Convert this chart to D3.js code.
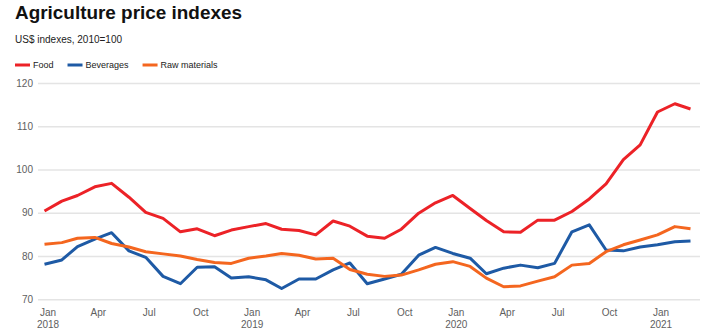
<!DOCTYPE html>
<html lang="en">
<head>
<meta charset="UTF-8">
<title>Agriculture price indexes</title>
<script src="https://d3js.org/d3.v7.min.js"></script>
<style>
  body { margin: 0; background: #fff; font-family: "Liberation Sans", Arial, sans-serif; }
  .grid line { stroke: #e4e4e4; stroke-width: 1.5; }
  .tick text { fill: #606060; font-size: 10px; }
</style>
</head>
<body>
<div id="chart"></div>
<script>
    // months Jan 2018 .. Mar 2021
    const months = [
        "2018-01","2018-02","2018-03","2018-04","2018-05","2018-06","2018-07","2018-08","2018-09","2018-10","2018-11","2018-12",
        "2019-01","2019-02","2019-03","2019-04","2019-05","2019-06","2019-07","2019-08","2019-09","2019-10","2019-11","2019-12",
        "2020-01","2020-02","2020-03","2020-04","2020-05","2020-06","2020-07","2020-08","2020-09","2020-10","2020-11","2020-12",
        "2021-01","2021-02","2021-03"
    ];

    const food = [
        90.4, 92.7, 94.0, 96.0, 96.8, 93.6, 90.1, 88.7, 85.6, 86.3, 84.7, 86.0,
        86.8, 87.5, 86.2, 85.9, 84.9, 88.1, 86.9, 84.6, 84.1, 86.2, 89.9, 92.3,
        94.0, 91.0, 88.2, 85.6, 85.5, 88.3, 88.3, 90.3, 93.2, 96.7, 102.3, 105.7,
        113.3, 115.2, 114.0
    ];
    const beverages = [
        78.1, 79.1, 82.2, 83.9, 85.4, 81.2, 79.7, 75.3, 73.6, 77.4, 77.5, 74.9,
        75.2, 74.5, 72.5, 74.7, 74.7, 76.8, 78.4, 73.6, 74.7, 75.8, 80.2, 82.0,
        80.6, 79.5, 75.9, 77.2, 77.9, 77.3, 78.3, 85.6, 87.2, 81.4, 81.2, 82.1,
        82.6, 83.3, 83.5
    ];
    const rawMaterials = [
        82.7, 83.1, 84.1, 84.3, 82.9, 82.1, 81.0, 80.5, 80.0, 79.2, 78.5, 78.3,
        79.5, 80.0, 80.6, 80.2, 79.3, 79.5, 76.9, 75.8, 75.3, 75.6, 76.8, 78.1,
        78.7, 77.6, 74.9, 72.9, 73.1, 74.2, 75.2, 77.9, 78.3, 81.0, 82.6, 83.7,
        84.9, 86.8, 86.3
    ];

    const seriesNames = ["Food", "Beverages", "Raw materials"];
    const seriesColors = ["#ec2227", "#1e5aa5", "#f4661f"];
    const yTicks = [70, 80, 90, 100, 110, 120];
    const xTickMonths = ["2018-01","2018-04","2018-07","2018-10","2019-01","2019-04","2019-07","2019-10","2020-01","2020-04","2020-07","2020-10","2021-01"];

    const parse = d3.timeParse("%Y-%m");
    const dates = months.map(parse);
    const allSeries = [food, beverages, rawMaterials];

    const W = 705, H = 333;
    const svg = d3.select("#chart").append("svg")
        .attr("width", W)
        .attr("height", H);

    const x = d3.scaleTime()
        .domain(d3.extent(dates))
        .range([44.5, 690.5]);

    const y = d3.scaleLinear()
        .domain([70, 120])
        .range([299.3, 83]);

    // title, subtitle
    svg.append("text")
        .attr("x", 15).attr("y", 18.5)
        .attr("font-size", 17.5).attr("font-weight", "bold")
        .attr("fill", "#111")
        .attr("textLength", 227).attr("lengthAdjust", "spacingAndGlyphs")
        .text("Agriculture price indexes");

    svg.append("text")
        .attr("x", 15).attr("y", 43)
        .attr("font-size", 10).attr("fill", "#222")
        .text("US$ indexes, 2010=100");

    // legend
    let lx = 15;
    const legend = svg.append("g");
    seriesNames.forEach((name, i) => {
        legend.append("line")
            .attr("x1", lx).attr("x2", lx + 15)
            .attr("y1", 65).attr("y2", 65)
            .attr("stroke", seriesColors[i]).attr("stroke-width", 3);
        const t = legend.append("text")
            .attr("x", lx + 18).attr("y", 68)
            .attr("font-size", 9).attr("fill", "#222")
            .text(name);
        lx += 18 + t.node().getComputedTextLength() + 14;
    });

    // gridlines + y labels
    const yAxis = svg.append("g")
        .attr("class", "grid")
        .attr("transform", "translate(38,0)")
        .call(d3.axisLeft(y).tickValues(yTicks).tickSize(-662).tickPadding(5));
    yAxis.select(".domain").remove();
    yAxis.selectAll(".tick text").attr("x", -5);

    // x axis labels
    const xAxis = svg.append("g")
        .attr("transform", "translate(3,299)")
        .call(d3.axisBottom(x).tickValues(xTickMonths.map(parse)).tickSize(0).tickPadding(10)
            .tickFormat(d => d3.timeFormat("%b")(d)));
    xAxis.select(".domain").remove();
    xAxis.selectAll(".tick text").each(function(d) {
        if (d.getMonth() === 0) {
            d3.select(this).append("tspan")
                .attr("x", 0).attr("dy", "1.2em")
                .text(d.getFullYear());
        }
    });

    // lines
    const line = d3.line()
        .x((d, i) => x(dates[i]))
        .y(d => y(d));

    allSeries.forEach((s, i) => {
        svg.append("path")
            .datum(s)
            .attr("fill", "none")
            .attr("stroke", seriesColors[i])
            .attr("stroke-width", 3)
            .attr("stroke-linejoin", "round")
            .attr("d", line);
    });
</script>
</body>
</html>
